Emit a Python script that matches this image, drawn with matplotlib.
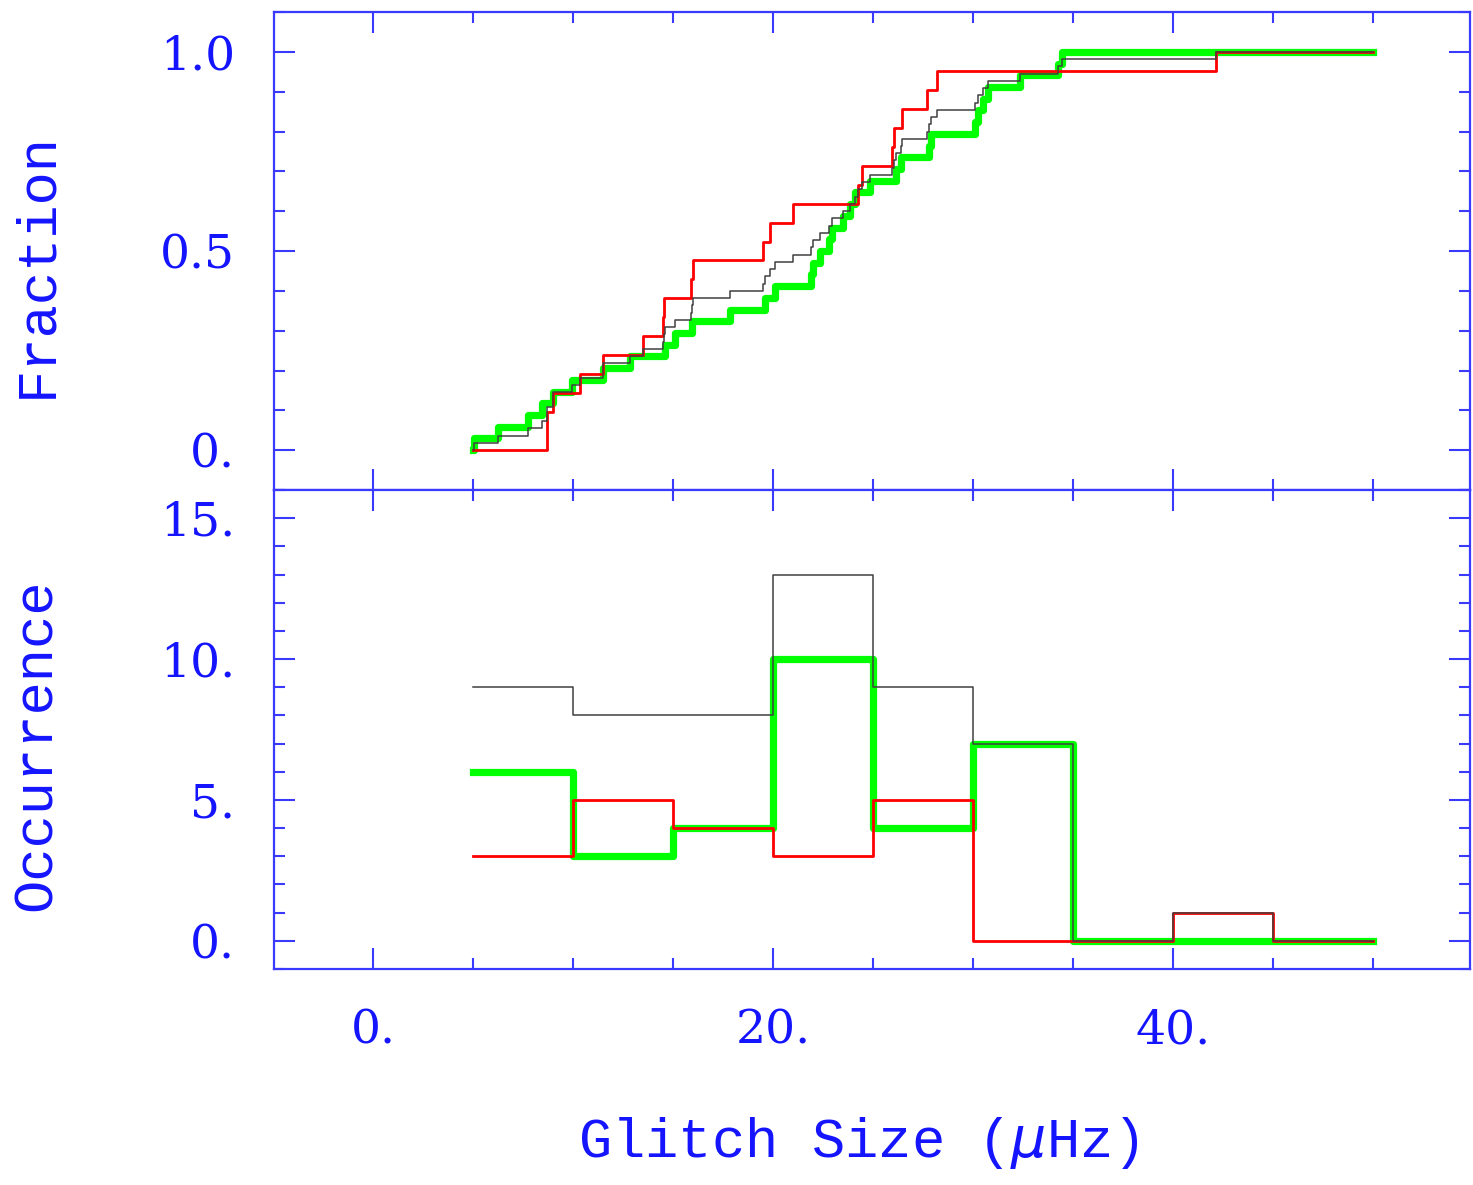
import numpy as np
import matplotlib.pyplot as plt
from matplotlib.ticker import MultipleLocator, FuncFormatter

# glitch sizes (muHz)
green_sizes = [5.05, 6.27, 7.77, 8.43, 9.02, 9.93,
               11.52, 12.85, 14.6,
               15.1, 15.93, 17.85, 19.6,
               20.1, 21.9, 22.02, 22.35, 22.8, 22.93, 23.52, 23.85, 24.1, 24.85,
               26.15, 26.4, 27.8, 27.9,
               30.1, 30.27, 30.52, 30.77, 32.35, 34.27, 34.43]
red_sizes = [8.7, 8.72, 9.0, 10.35, 11.52, 13.48, 14.5, 14.55,
             15.88, 16.02, 19.48, 19.85, 21.02, 24.27, 24.43,
             25.93, 26.05, 26.43, 27.72, 28.22, 42.15]
all_sizes = green_sizes + red_sizes

bin_edges = np.arange(5, 51, 5)
x_start, x_end = 5, 50

blue = "#1414ff"
axis_blue = "#3a3aff"

series = [
    (green_sizes, "#00ff00", 5.2),
    (red_sizes, "#ff0000", 2.0),
    (all_sizes, "#404040", 1.1),
]

fig = plt.figure(figsize=(14.73, 11.85), dpi=100)
W, H = 1473, 1185
left, right = 274 / W, 1470 / W
ax1 = fig.add_axes([left, 1 - 490 / H, right - left, (490 - 12) / H])
ax2 = fig.add_axes([left, 1 - 969 / H, right - left, (969 - 490) / H])

for sizes, color, lw in series:
    vals = np.sort(sizes)
    n = len(vals)
    xs = np.concatenate([[x_start], vals, [x_end]])
    ys = np.concatenate([[0], np.arange(1, n + 1) / n, [1]])
    ax1.step(xs, ys, where="post", color=color, lw=lw)

    counts, _ = np.histogram(sizes, bins=bin_edges)
    ax2.step(bin_edges, np.append(counts, counts[-1]), where="post",
             color=color, lw=lw)

for ax in (ax1, ax2):
    ax.set_xlim(-4.95, 54.85)
    ax.xaxis.set_major_locator(MultipleLocator(20))
    ax.xaxis.set_minor_locator(MultipleLocator(5))
    ax.tick_params(which="both", direction="in", top=True, right=True,
                   color=axis_blue, width=1.5, labelcolor=blue,
                   labelsize=34, labelfontfamily="DejaVu Serif")
    ax.tick_params(which="major", length=15)
    ax.tick_params(which="minor", length=8)
    ax.tick_params(axis="y", pad=28)
    for s in ax.spines.values():
        s.set_color(axis_blue)
        s.set_linewidth(1.6)

ax1.set_ylim(-0.1, 1.1)
ax1.yaxis.set_major_locator(MultipleLocator(0.5))
ax1.yaxis.set_minor_locator(MultipleLocator(0.1))
ax1.yaxis.set_major_formatter(FuncFormatter(lambda v, p: "0." if abs(v) < 1e-9 else f"{v:.1f}"))
ax1.tick_params(axis="x", labelbottom=False)

ax2.set_ylim(-1, 16)
ax2.yaxis.set_major_locator(MultipleLocator(5))
ax2.yaxis.set_minor_locator(MultipleLocator(1))
ax2.yaxis.set_major_formatter(FuncFormatter(lambda v, p: f"{int(round(v))}."))
ax2.xaxis.set_major_formatter(FuncFormatter(lambda v, p: f"{int(round(v))}."))
ax2.tick_params(axis="x", pad=28)

lab = dict(color=blue, family="Liberation Mono", fontsize=40,
           ha="center", va="center")
fig.text(37 / W, 1 - 265 / H, "Fraction", rotation=90, **lab)
fig.text(37 / W, 1 - 745 / H, "Occurrence", rotation=90, **lab)
fig.text(858 / W, 1 - 1143 / H, r"Glitch Size ($\mu$Hz)", **lab)

fig.savefig("out.png", dpi=100)
